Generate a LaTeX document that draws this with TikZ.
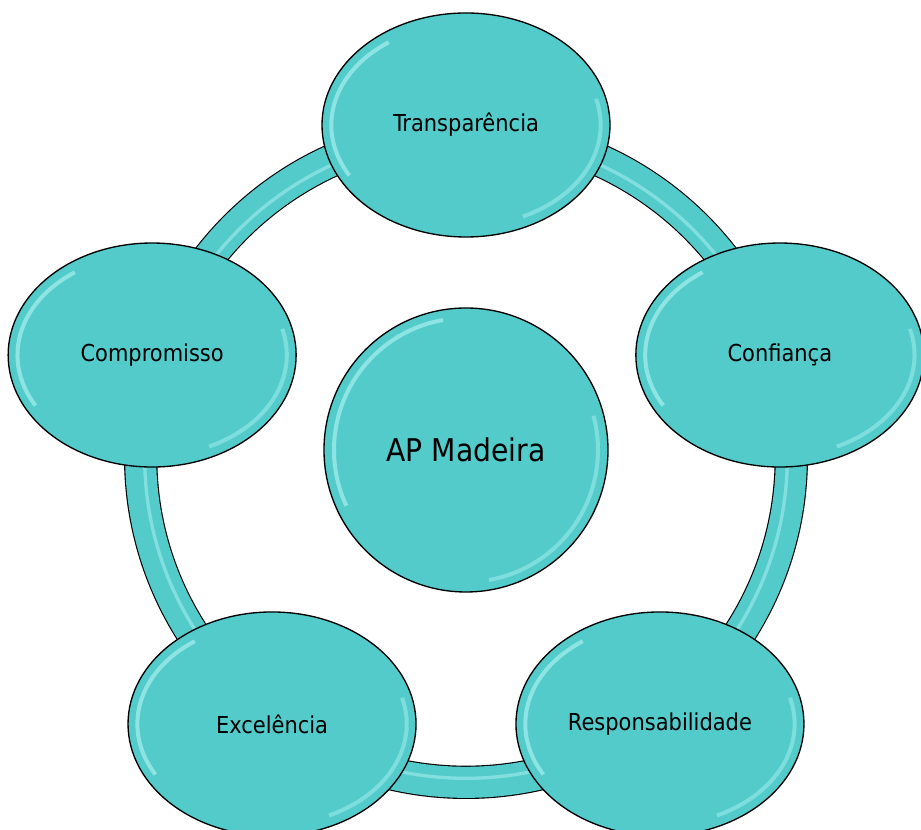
\documentclass[tikz,border=0pt]{standalone}
\usepackage{fontspec}
\setmainfont{DejaVu Sans Condensed}
\usetikzlibrary{shapes.geometric}
\definecolor{aqua}{RGB}{84,203,203}
\definecolor{shine}{RGB}{190,248,248}
\tikzset{
  gloss/.style={path picture={
    \draw[shine, line width=3pt, opacity=0.55]
      (path picture bounding box.center) ++(125:#1 and 0.75*#1) arc[start angle=125, end angle=210, x radius=#1, y radius=0.75*#1];
    \draw[shine, line width=3pt, opacity=0.4]
      (path picture bounding box.center) ++(-65:#1 and 0.75*#1) arc[start angle=-65, end angle=15, x radius=#1, y radius=0.75*#1];
  }},
  value/.style={draw, ellipse, line width=1pt, fill=aqua, inner sep=0pt,
    minimum width=216pt, minimum height=168pt, font=\fontsize{17.5}{20}\selectfont,
    gloss=101pt},
  hub/.style={draw, circle, line width=1pt, fill=aqua, inner sep=0pt,
    minimum size=213pt, font=\fontsize{23.5}{28}\selectfont}
}
\begin{document}
\begin{tikzpicture}[x=0.75pt, y=0.75pt]
\useasboundingbox (-466,457) rectangle (455,-373);

% Ring behind the values
\draw[line width=25pt] (0,0) circle[radius=244pt];
\draw[line width=23.3pt, aqua] (0,0) circle[radius=244pt];
\draw[line width=2.5pt, shine, opacity=0.45] (0,0) circle[radius=241pt];

% Values around the ring
\node[value] (transp) at (90:332) {Transparência};
\node[value] (conf) at (18:330) {Confiança};
\node[value] (resp) at (-54:330) {Responsabilidade};
\node[value] (exc) at (-126:330) {Excelência};
\node[value] (comp) at (162:330) {Compromisso};

% Centre
\node[hub, path picture={
    \draw[shine, line width=3pt, opacity=0.55] (path picture bounding box.center) ++(100:99pt) arc[start angle=100, end angle=205, radius=99pt];
    \draw[shine, line width=3pt, opacity=0.4] (path picture bounding box.center) ++(-80:99pt) arc[start angle=-80, end angle=15, radius=99pt];
  }] (ap) at (0,7) {AP Madeira};
\end{tikzpicture}
\end{document}
